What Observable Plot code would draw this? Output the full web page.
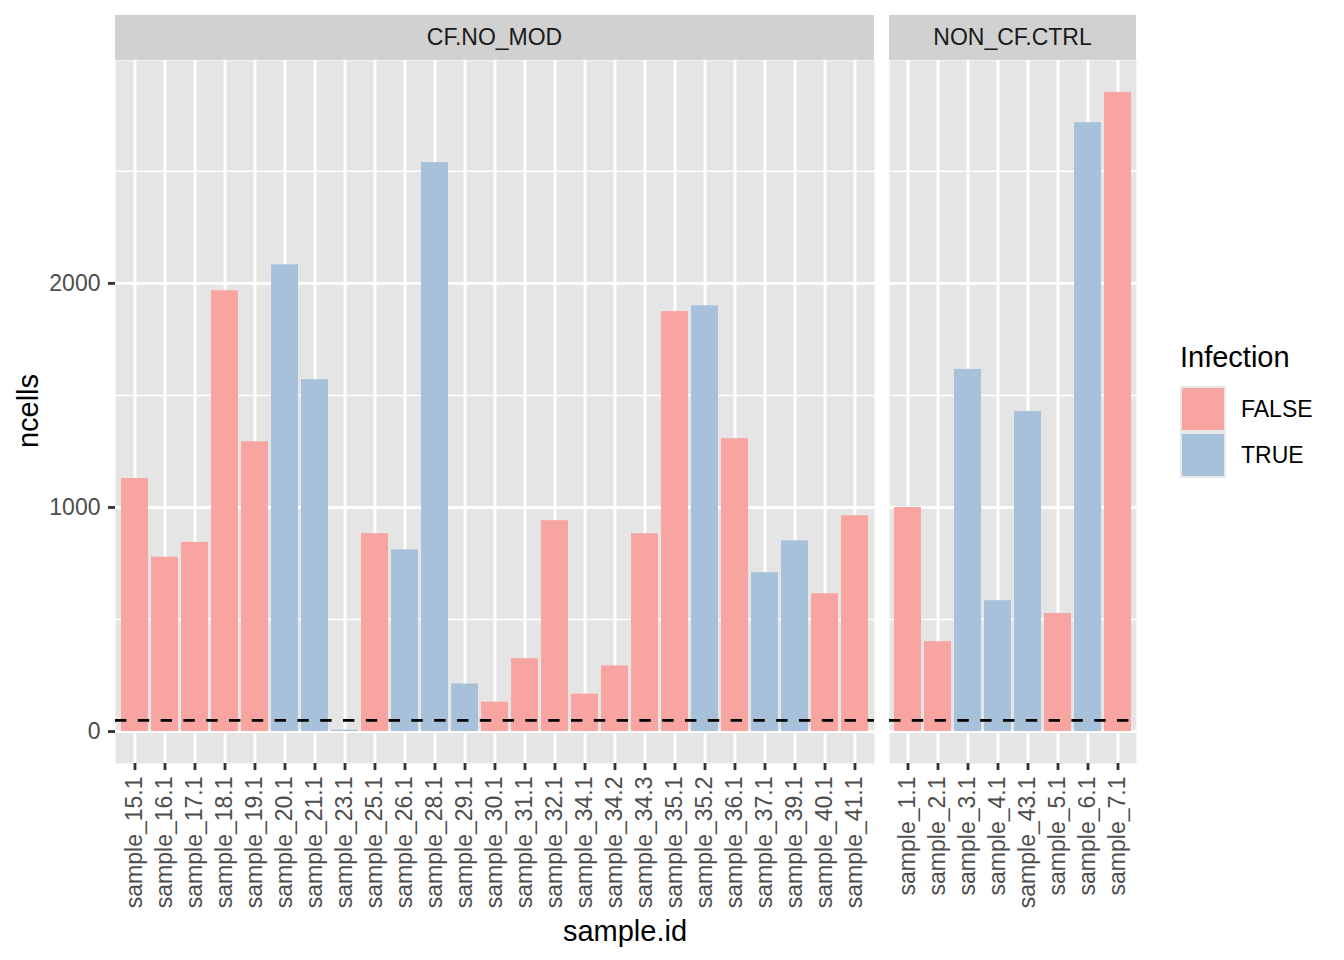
<!DOCTYPE html>
<html>
<head>
<meta charset="utf-8">
<script src="https://cdn.jsdelivr.net/npm/d3@7"></script>
<script src="https://cdn.jsdelivr.net/npm/@observablehq/plot@0.6"></script>
<style>
  html, body { margin: 0; padding: 0; background: #ffffff; }
  #root { position: relative; width: 1344px; height: 960px; background: #ffffff; overflow: hidden;
          font-family: "Liberation Sans", Arial, Helvetica, sans-serif; }
  #root svg { position: absolute; top: 0; overflow: visible; }
  .strip { position: absolute; top: 15px; height: 45px; background: #D1D1D1; color: #1A1A1A;
           font-size: 23px; display: flex; align-items: center; justify-content: center; }
  .axis-title { position: absolute; color: #000; font-size: 29px; white-space: nowrap; }
  .legend-title { position: absolute; left: 1180px; top: 341px; font-size: 29px; color: #000; }
  .key { position: absolute; left: 1180px; width: 46px; height: 46px; background: #E9E9E9; }
  .key > div { position: absolute; left: 2px; top: 2px; right: 2px; bottom: 2px; }
  .key-label { position: absolute; left: 1241px; font-size: 23px; color: #000; }
  #root svg g[aria-label="y-axis tick label"] text,
  #root svg g[aria-label="x-axis tick label"] text { fill: #4D4D4D; }
</style>
</head>
<body>
<div id="root"></div>
<script>
// ---- data ----
const panels = ["CF.NO_MOD", "NON_CF.CTRL"];

const cfSamples = ["sample_15.1","sample_16.1","sample_17.1","sample_18.1","sample_19.1","sample_20.1",
  "sample_21.1","sample_23.1","sample_25.1","sample_26.1","sample_28.1","sample_29.1","sample_30.1",
  "sample_31.1","sample_32.1","sample_34.1","sample_34.2","sample_34.3","sample_35.1","sample_35.2",
  "sample_36.1","sample_37.1","sample_39.1","sample_40.1","sample_41.1"];
const cfCells = [1129, 778, 844, 1967, 1293, 2083, 1570, 6, 883, 811, 2539, 212, 131,
  325, 941, 167, 293, 883, 1874, 1900, 1307, 709, 851, 615, 963];
const cfInfection = ["FALSE","FALSE","FALSE","FALSE","FALSE","TRUE","TRUE","TRUE","FALSE","TRUE",
  "TRUE","TRUE","FALSE","FALSE","FALSE","FALSE","FALSE","FALSE","FALSE","TRUE","FALSE","TRUE",
  "TRUE","FALSE","FALSE"];

const ctrlSamples = ["sample_1.1","sample_2.1","sample_3.1","sample_4.1","sample_43.1","sample_5.1",
  "sample_6.1","sample_7.1"];
const ctrlCells = [1000, 401, 1616, 584, 1428, 527, 2717, 2852];
const ctrlInfection = ["FALSE","FALSE","TRUE","TRUE","TRUE","FALSE","TRUE","FALSE"];

const infectionLevels = ["FALSE", "TRUE"];
const infectionColors = ["#F8A4A0", "#A7C1DB"];
const threshold = 50;
const majorTicks = [0, 1000, 2000];
const minorTicks = [500, 1500, 2500];

// ---- build ----
const cfData = cfSamples.map((s, i) => ({sample: s, ncells: cfCells[i], infection: cfInfection[i]}));
const ctrlData = ctrlSamples.map((s, i) => ({sample: s, ncells: ctrlCells[i], infection: ctrlInfection[i]}));
const maxCells = d3.max([...cfCells, ...ctrlCells]);
const yDomain = [-0.05 * maxCells, 1.05 * maxCells];

const H = 960, TOP = 60, BOTTOM = 197;
const LINE = 2.84;

function panel(samples, data, {width, marginLeft, showY}) {
  const marks = [
    Plot.frame({fill: "#E5E5E5", stroke: null}),
    Plot.ruleY(minorTicks, {stroke: "#ffffff", strokeWidth: LINE / 2}),
    Plot.ruleY(majorTicks, {stroke: "#ffffff", strokeWidth: LINE}),
    Plot.ruleX(samples, {stroke: "#ffffff", strokeWidth: LINE}),
    Plot.barY(data, {x: "sample", y: "ncells", fill: "infection"}),
    Plot.ruleY([threshold], {stroke: "#000000", strokeWidth: LINE, strokeDasharray: "11.4,11.4"}),
    Plot.axisX({tickRotate: -90, tickSize: 7, tickPadding: 6, fontSize: 23, label: null,
                stroke: "#333333", strokeWidth: LINE, color: "#333333"})
  ];
  if (showY) {
    marks.push(Plot.axisY({ticks: majorTicks, tickFormat: d => String(d), tickSize: 7, tickPadding: 8,
                           fontSize: 23, label: null, stroke: "#333333", strokeWidth: LINE, color: "#333333"}));
  }
  return Plot.plot({
    width, height: H,
    marginLeft, marginRight: 0, marginTop: TOP, marginBottom: BOTTOM,
    x: {domain: samples, paddingInner: 0.1, paddingOuter: 0.155, label: null, axis: null},
    y: {domain: yDomain, label: null, axis: null},
    color: {domain: infectionLevels, range: infectionColors},
    style: {fontFamily: "'Liberation Sans', Arial, Helvetica, sans-serif", background: "transparent", overflow: "visible"},
    marks
  });
}

const root = document.getElementById("root");

const left = panel(cfSamples, cfData, {width: 874, marginLeft: 115, showY: true});
left.style.left = "0px";
root.appendChild(left);

const right = panel(ctrlSamples, ctrlData, {width: 247, marginLeft: 0, showY: false});
right.style.left = "889px";
root.appendChild(right);

// strips
function strip(text, x, w) {
  const d = document.createElement("div");
  d.className = "strip";
  d.style.left = x + "px";
  d.style.width = w + "px";
  d.textContent = text;
  root.appendChild(d);
}
strip(panels[0], 115, 759);
strip(panels[1], 889, 247);

// axis titles
const yt = document.createElement("div");
yt.className = "axis-title";
yt.textContent = "ncells";
yt.style.left = "28px";
yt.style.top = "411px";
yt.style.transform = "translate(-50%, -50%) rotate(-90deg)";
root.appendChild(yt);

const xt = document.createElement("div");
xt.className = "axis-title";
xt.textContent = "sample.id";
xt.style.left = "625px";
xt.style.top = "931px";
xt.style.transform = "translate(-50%, -50%)";
root.appendChild(xt);

// legend
const lt = document.createElement("div");
lt.className = "legend-title";
lt.textContent = "Infection";
root.appendChild(lt);
infectionLevels.forEach((lvl, i) => {
  const k = document.createElement("div");
  k.className = "key";
  k.style.top = (386 + i * 46) + "px";
  const f = document.createElement("div");
  f.style.background = infectionColors[i];
  k.appendChild(f);
  root.appendChild(k);
  const l = document.createElement("div");
  l.className = "key-label";
  l.textContent = lvl;
  l.style.top = (386 + i * 46 + 23) + "px";
  l.style.transform = "translateY(-50%)";
  root.appendChild(l);
});
</script>
</body>
</html>
